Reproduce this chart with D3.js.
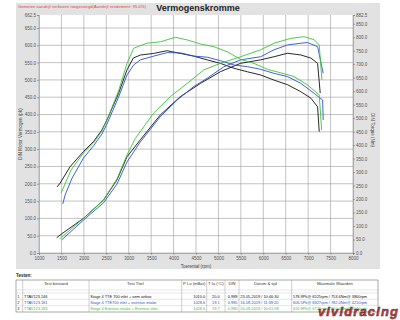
<!DOCTYPE html>
<html>
<head>
<meta charset="utf-8">
<script src="https://cdn.jsdelivr.net/npm/d3@7"></script>
<style>
  body { margin: 0; background: #fff; }
  svg { display: block; font-family: "Liberation Sans", Arial, sans-serif; }
  .tick text { fill: #555; font-size: 4.5px; }
  .tick line { stroke: #666; stroke-width: 0.5; }
  .domain { stroke: #888; stroke-width: 0.5; }
</style>
</head>
<body>
<svg id="chart" width="400" height="320"></svg>
<script>
// rpm ticks
var rpmTicks = d3.range(1000, 8001, 500);
var pkTicks = d3.range(0, 651, 50);
var nmTicks = d3.range(0, 851, 50).concat([882.5]);

// [rpm, pk] power curves
var powerBlack = [[1396,44],[1470,52],[1991,100],[2438,153],[2738,211],[2962,278],[3259,327],[3706,399],[4154,452],[4601,490],[5048,524],[5496,548],[5943,558],[6240,567],[6540,577],[6838,572],[7061,563],[7211,548],[7269,462]];
var powerBlue = [[1508,38],[1991,95],[2438,145],[2738,199],[2962,263],[3259,321],[3706,394],[4080,442],[4451,481],[4751,505],[5122,538],[5496,558],[5943,567],[6240,587],[6540,601],[6838,606],[6987,608],[7211,596],[7336,519]];
var powerGreen = [[1454,40],[1991,100],[2438,153],[2738,214],[2962,283],[3147,331],[3556,404],[3930,452],[4303,490],[4675,529],[5048,548],[5496,567],[5943,587],[6240,606],[6614,620],[6911,625],[7135,616],[7247,601],[7307,500]];

// [rpm, Nm] torque curves
var torqueBlack = [[1403,245],[1470,259],[1693,320],[1991,376],[2214,413],[2402,456],[2514,493],[2774,592],[2962,679],[3102,723],[3259,734],[3556,740],[3856,750],[4154,740],[4451,730],[4751,716],[5048,703],[5346,685],[5645,672],[5943,660],[6240,641],[6540,624],[6838,598],[7061,574],[7211,542],[7247,450]];
var torqueBlue = [[1530,182],[1582,215],[1738,278],[1991,352],[2214,397],[2402,441],[2514,478],[2774,578],[2962,660],[3109,697],[3259,716],[3556,730],[3856,743],[4154,742],[4451,730],[4751,726],[5048,713],[5346,697],[5645,691],[5943,681],[6240,666],[6540,654],[6838,629],[7135,592],[7323,567],[7336,493]];
var torqueGreen = [[1492,222],[1559,248],[1716,308],[1991,371],[2214,408],[2402,452],[2514,493],[2774,601],[2962,703],[3109,759],[3408,778],[3706,783],[4042,800],[4303,790],[4601,775],[4899,765],[5198,746],[5496,718],[5793,703],[6093,681],[6390,668],[6688,654],[6987,623],[7247,586],[7301,456]];

var runColors = ["#111111", "#2f4fd0", "#3cc23c"];

// table
var tableHeader = ["", "Test bestand", "Test Titel", "P Lu (mBar)", "T lu (\u00b0C)", "DIN", "Datum & tijd", "Maximale Waarden"];
var tableRows = [
  ["1", "TTAV123.146", "Stage 4 TTE 700  inlet + oem airbox", "1010.0", "20.0", "0.989", "23-05-2019 / 10:46:30", "578.9Pk@ 6525rpm / 753.6Nm@ 3860rpm"],
  ["2", "TTAV123.181", "Stage 4 TTE700 inlet + eventuri intake", "1028.6", "19.1", "0.985", "16-09-2019 / 11:39:20", "606.5Pk@ 6927rpm / 782.0Nm@ 4210rpm"],
  ["3", "TTAV123.183", "Stage 4 Eventuri intake + Eventuri inlet", "1028.6", "19.7", "0.980", "20-09-2019 / 10:01:08", "620.9Pk@ 6720rpm / 800.4Nm@ 4040rpm"]
];

var svg = d3.select("#chart");

var plot = {left: 39, right: 353, top: 15, bottom: 253};

// grey panel
svg.append("rect")
  .attr("x", 16).attr("y", 3)
  .attr("width", 364).attr("height", 266)
  .attr("fill", "#e2e2e2");

svg.append("rect")
  .attr("x", plot.left).attr("y", plot.top)
  .attr("width", plot.right - plot.left).attr("height", plot.bottom - plot.top)
  .attr("fill", "#fff");

var xScale = d3.scaleLinear().domain([1000, 8000]).range([plot.left, plot.right]);
var yPk = d3.scaleLinear().domain([0, 687.5]).range([plot.bottom, plot.top]);
var yNm = d3.scaleLinear().domain([0, 882.5]).range([plot.bottom, plot.top]);

// grid
svg.append("g").selectAll("line")
  .data(rpmTicks)
  .enter().append("line")
  .attr("x1", function(d) { return xScale(d); })
  .attr("x2", function(d) { return xScale(d); })
  .attr("y1", plot.top).attr("y2", plot.bottom)
  .attr("stroke", "#9a9a9a").attr("stroke-width", 0.6);

svg.append("g").selectAll("line")
  .data(pkTicks)
  .enter().append("line")
  .attr("x1", plot.left).attr("x2", plot.right)
  .attr("y1", function(d) { return yPk(d); })
  .attr("y2", function(d) { return yPk(d); })
  .attr("stroke", "#9a9a9a").attr("stroke-width", 0.6);

// axes
svg.append("g")
  .attr("transform", "translate(0," + plot.bottom + ")")
  .call(d3.axisBottom(xScale).tickValues(rpmTicks).tickSize(2).tickPadding(2).tickFormat(d3.format("d")));

svg.append("g")
  .attr("transform", "translate(" + plot.left + ",0)")
  .call(d3.axisLeft(yPk).tickValues(pkTicks.concat([687.5])).tickSize(2).tickPadding(1)
    .tickFormat(function(d) { return d == 687.5 ? "662.5" : d3.format(".1f")(d); }));

svg.append("g")
  .attr("transform", "translate(" + plot.right + ",0)")
  .call(d3.axisRight(yNm).tickValues(nmTicks).tickSize(2).tickPadding(1).tickFormat(d3.format(".1f")));

// curves
var powerLine = d3.line()
  .x(function(d) { return xScale(d[0]); })
  .y(function(d) { return yPk(d[1]); });
var torqueLine = d3.line()
  .x(function(d) { return xScale(d[0]); })
  .y(function(d) { return yNm(d[1]); });

var powers = [powerBlack, powerBlue, powerGreen];
var torques = [torqueBlack, torqueBlue, torqueGreen];

for (var i = 0; i < 3; i++) {
  svg.append("path")
    .datum(torques[i])
    .attr("d", torqueLine)
    .attr("fill", "none")
    .attr("stroke", runColors[i])
    .attr("stroke-width", 0.9);
  svg.append("path")
    .datum(powers[i])
    .attr("d", powerLine)
    .attr("fill", "none")
    .attr("stroke", runColors[i])
    .attr("stroke-width", 0.9);
}

// titles
svg.append("text")
  .attr("x", 198).attr("y", 11)
  .attr("text-anchor", "middle")
  .attr("font-size", 9).attr("font-weight", "bold")
  .attr("fill", "#222")
  .text("Vermogenskromme");

svg.append("text")
  .attr("x", 18).attr("y", 7.5)
  .attr("font-size", 4).attr("fill", "#e03a3a")
  .attr("textLength", 128)
  .text("Gemeten aandrijf verliezen toegevoegd(Aandrijf rendement: 95.0%)");

svg.append("text")
  .attr("x", 196).attr("y", 268)
  .attr("text-anchor", "middle")
  .attr("font-size", 4.5).attr("fill", "#444")
  .text("Toerental (rpm)");

svg.append("text")
  .attr("transform", "translate(22,134) rotate(-90)")
  .attr("text-anchor", "middle")
  .attr("font-size", 4.5).attr("fill", "#444")
  .text("DIN Motor Vermogen (pk)");

svg.append("text")
  .attr("transform", "translate(371,130) rotate(90)")
  .attr("text-anchor", "middle")
  .attr("font-size", 4.5).attr("fill", "#444")
  .text("DIN Torque (Nm)");

// table
svg.append("text")
  .attr("x", 16).attr("y", 277)
  .attr("font-size", 4.5).attr("font-weight", "bold")
  .attr("fill", "#222")
  .text("Testen:");

var colX = [16, 22.7, 89, 181.7, 206.7, 225, 239, 291.7, 378];
var rowY = [280, 290, 293, 299.3, 305.6, 312];
var align = ["start", "start", "start", "end", "middle", "end", "start", "start"];

var table = svg.append("g");
table.append("rect")
  .attr("x", colX[0]).attr("y", rowY[0])
  .attr("width", colX[8] - colX[0]).attr("height", rowY[5] - rowY[0])
  .attr("fill", "#fff").attr("stroke", "#555").attr("stroke-width", 0.5);

table.selectAll(".vline")
  .data(colX.slice(1, 8))
  .enter().append("line")
  .attr("x1", function(d) { return d; }).attr("x2", function(d) { return d; })
  .attr("y1", rowY[0]).attr("y2", rowY[5])
  .attr("stroke", "#888").attr("stroke-width", 0.4);

table.selectAll(".hline")
  .data(rowY.slice(1, 5))
  .enter().append("line")
  .attr("x1", colX[0]).attr("x2", colX[8])
  .attr("y1", function(d) { return d; }).attr("y2", function(d) { return d; })
  .attr("stroke", "#aaa").attr("stroke-width", 0.3);

tableHeader.forEach(function(h, c) {
  table.append("text")
    .attr("x", (colX[c] + colX[c + 1]) / 2).attr("y", 284.5)
    .attr("text-anchor", "middle")
    .attr("font-size", 4.2).attr("fill", "#333")
    .text(h);
});

function cellX(c) {
  if (align[c] == "start") return colX[c] + 1.3;
  if (align[c] == "end") return colX[c + 1] - 1.5;
  return (colX[c] + colX[c + 1]) / 2;
}

tableRows.forEach(function(row, r) {
  row.forEach(function(v, c) {
    table.append("text")
      .attr("x", cellX(c)).attr("y", rowY[r + 2] + 4.5)
      .attr("text-anchor", align[c])
      .attr("font-size", 3.9)
      .attr("fill", c == 0 ? "#333" : runColors[r])
      .text(v);
  });
});

// watermark
svg.append("text")
  .attr("x", 318).attr("y", 316)
  .attr("font-size", 13).attr("font-weight", "bold").attr("font-style", "italic")
  .attr("textLength", 80)
  .attr("fill", "#c8141e").attr("stroke", "#3a0a0a").attr("stroke-width", 0.5)
  .attr("opacity", 0.85)
  .text("vividracing");
</script>
</body>
</html>
